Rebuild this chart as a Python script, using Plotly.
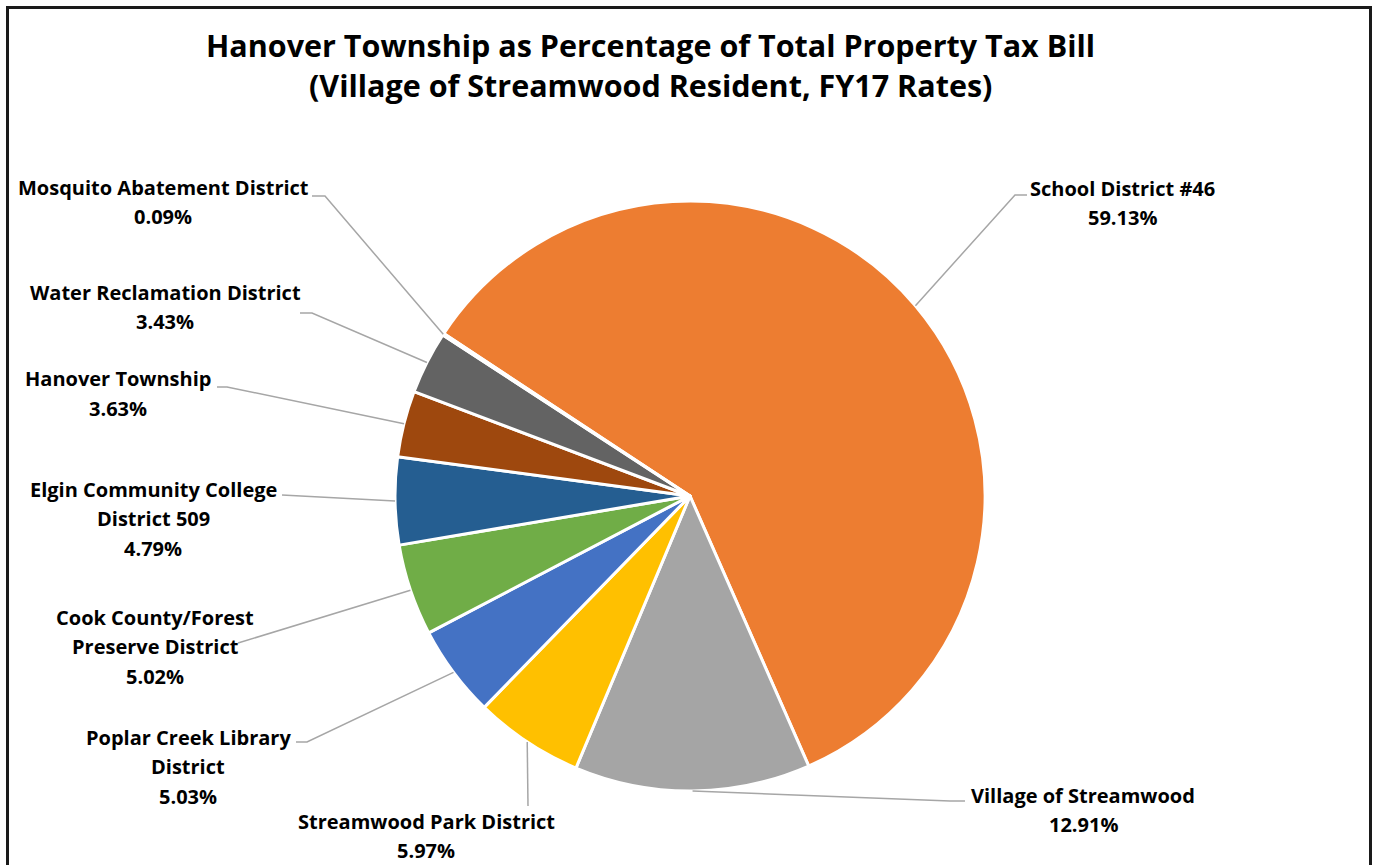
import math
import plotly.graph_objects as go

W, H = 1376, 865

# ---- data ----
categories = [
    "School District #46",
    "Village of Streamwood",
    "Streamwood Park District",
    "Poplar Creek Library District",
    "Cook County/Forest Preserve District",
    "Elgin Community College District 509",
    "Hanover Township",
    "Water Reclamation District",
    "Mosquito Abatement District",
]
shares = [59.13, 12.91, 5.97, 5.03, 5.02, 4.79, 3.63, 3.43, 0.09]
label_lines = [
    ["School District #46"],
    ["Village of Streamwood"],
    ["Streamwood Park District"],
    ["Poplar Creek Library", "District"],
    ["Cook County/Forest", "Preserve District"],
    ["Elgin Community College", "District 509"],
    ["Hanover Township"],
    ["Water Reclamation District"],
    ["Mosquito Abatement District"],
]
colors = ["#ED7D31", "#A5A5A5", "#FFC000", "#4472C4", "#70AD47",
          "#255E91", "#9E480E", "#636363", "#997300"]

# ---- layout (pixel positions) ----
CX, CY, R = 690, 496, 295
ROTATION = -56.6
# label block: (center x, first line y), leader elbow, leader end
label_pos = [
    (1122, 188, (1015, 195), (1027, 195)),
    (1083, 795, (950, 801), (965, 801)),
    (426, 821, None, (528, 806)),
    (188, 737, (307, 742), (296, 742)),
    (155, 617, None, (238, 643)),
    (153, 489, None, (282, 495)),
    (118, 379, (227, 387), (217, 387)),
    (165, 292, (312, 313), (300, 313)),
    (163, 187, (325, 196), (312, 196)),
]
LINE_GAP = 29.5
FONT = "Open Sans"


def px(x):
    return x / W


def py(y):
    return 1 - y / H


fig = go.Figure(go.Pie(
    labels=categories,
    values=shares,
    sort=False,
    direction="clockwise",
    rotation=ROTATION,
    textinfo="none",
    hoverinfo="label+percent",
    marker=dict(colors=colors, line=dict(color="white", width=3)),
    domain=dict(x=[px(CX - R), px(CX + R)], y=[py(CY + R), py(CY - R)]),
    showlegend=False,
))

annotations = []
shapes = []

total = sum(shares)
cum = 0.0
for i, v in enumerate(shares):
    mid = ROTATION + (cum + v / 2) / total * 360
    cum += v
    a = math.radians(mid)
    ex, ey = CX + R * math.sin(a), CY - R * math.cos(a)
    lx, ly, elbow, end = label_pos[i]
    pts = [(ex, ey)] + ([elbow] if elbow else []) + [end]
    path = "M " + " L ".join(f"{px(x)},{py(y)}" for x, y in pts)
    shapes.append(dict(type="path", xref="paper", yref="paper", path=path,
                       line=dict(color="#A6A6A6", width=1.5)))
    lines = label_lines[i] + [f"{v:.2f}%"]
    for k, t in enumerate(lines):
        annotations.append(dict(
            x=px(lx), y=py(ly + k * LINE_GAP), xref="paper", yref="paper",
            text=f"<b>{t}</b>", showarrow=False, xanchor="center", yanchor="middle",
            font=dict(family=FONT, size=20, color="#000000"),
        ))

title_lines = ["Hanover Township as Percentage of Total Property Tax Bill",
               "(Village of Streamwood Resident, FY17 Rates)"]
for k, t in enumerate(title_lines):
    annotations.append(dict(
        x=px(650), y=py(45 + k * 40), xref="paper", yref="paper",
        text=f"<b>{t}</b>", showarrow=False, xanchor="center", yanchor="middle",
        font=dict(family=FONT, size=30.5, color="#000000"),
    ))

# chart border
shapes.append(dict(type="rect", xref="paper", yref="paper",
                   x0=px(7.5), x1=px(1370.5), y0=py(880), y1=py(7.5),
                   line=dict(color="#1a1a1a", width=3), fillcolor="rgba(0,0,0,0)"))

fig.update_layout(
    width=W, height=H,
    margin=dict(l=0, r=0, t=0, b=0),
    paper_bgcolor="white",
    plot_bgcolor="white",
    annotations=annotations,
    shapes=shapes,
)

fig.write_html("out.html", config={"displayModeBar": False})
